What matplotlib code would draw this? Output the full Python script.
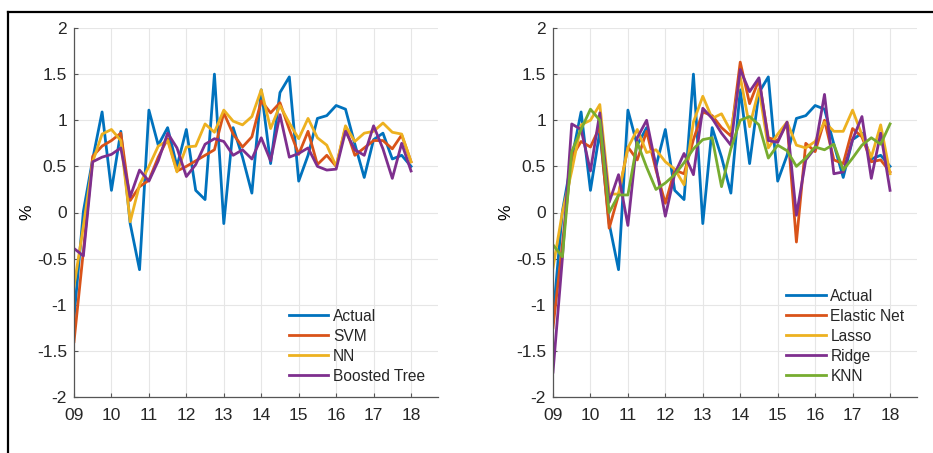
import numpy as np
import matplotlib.pyplot as plt
from matplotlib.lines import Line2D

# quarterly values, 2009Q1 .. 2018Q1
years = 2009 + np.arange(37) / 4
tick_years = np.arange(2009, 2019)
tick_labels = ['09', '10', '11', '12', '13', '14', '15', '16', '17', '18']

actual = [-1.15, 0.01, 0.58, 1.09, 0.24, 0.88, -0.12, -0.62, 1.11, 0.73,
          0.92, 0.5, 0.9, 0.24, 0.14, 1.5, -0.12, 0.92, 0.6, 0.21,
          1.33, 0.53, 1.3, 1.47, 0.34, 0.62, 1.02, 1.05, 1.16, 1.12,
          0.74, 0.38, 0.79, 0.86, 0.58, 0.62, 0.5]

svm = [-1.4, -0.42, 0.61, 0.72, 0.78, 0.86, 0.13, 0.28, 0.35, 0.6,
       0.8, 0.45, 0.5, 0.56, 0.62, 0.68, 1.08, 0.85, 0.71, 0.82,
       1.21, 1.08, 1.19, 0.9, 0.63, 0.88, 0.52, 0.62, 0.5, 0.92,
       0.62, 0.7, 0.78, 0.78, 0.69, 0.84, 0.55]

nn = [-0.8, -0.15, 0.55, 0.85, 0.9, 0.78, -0.1, 0.3, 0.5, 0.72,
      0.78, 0.44, 0.71, 0.72, 0.96, 0.87, 1.11, 0.99, 0.95, 1.04,
      1.33, 0.91, 1.16, 0.97, 0.8, 1.02, 0.81, 0.73, 0.5, 0.94,
      0.77, 0.86, 0.88, 0.97, 0.87, 0.85, 0.55]

boosted = [-0.39, -0.47, 0.55, 0.6, 0.63, 0.7, 0.17, 0.46, 0.34, 0.56,
           0.86, 0.7, 0.39, 0.52, 0.74, 0.8, 0.77, 0.62, 0.68, 0.58,
           0.81, 0.56, 1.06, 0.6, 0.64, 0.7, 0.5, 0.46, 0.47, 0.88,
           0.68, 0.62, 0.94, 0.69, 0.37, 0.75, 0.45]

elastic = [-1.25, -0.35, 0.6, 0.77, 0.71, 0.93, -0.17, 0.19, 0.71, 0.57,
           0.88, 0.46, 0.1, 0.46, 0.42, 0.79, 1.09, 1.05, 0.92, 0.83,
           1.63, 1.18, 1.44, 0.81, 0.78, 0.97, -0.32, 0.75, 0.66, 1.0,
           0.57, 0.53, 0.91, 0.82, 0.55, 0.57, 0.44]

lasso = [-0.6, 0.0, 0.45, 0.95, 1.0, 1.17, 0.2, 0.2, 0.7, 0.9,
         0.65, 0.68, 0.55, 0.47, 0.3, 0.98, 1.26, 1.02, 1.07, 0.88,
         1.47, 0.93, 1.34, 0.7, 0.85, 0.98, 0.73, 0.7, 0.77, 0.98,
         0.88, 0.88, 1.11, 0.84, 0.6, 0.95, 0.42]

ridge = [-1.73, -0.5, 0.96, 0.9, 0.45, 1.08, 0.11, 0.41, -0.14, 0.81,
         1.0, 0.5, -0.04, 0.42, 0.64, 0.41, 1.13, 1.02, 0.86, 0.73,
         1.55, 1.31, 1.46, 0.78, 0.76, 0.98, -0.03, 0.57, 0.7, 1.28,
         0.42, 0.44, 0.79, 1.04, 0.37, 0.86, 0.24]

knn = [-0.35, -0.48, 0.66, 0.9, 1.12, 1.0, 0.0, 0.19, 0.19, 0.76,
       0.49, 0.25, 0.32, 0.41, 0.54, 0.69, 0.79, 0.81, 0.28, 0.69,
       1.0, 1.04, 0.95, 0.59, 0.73, 0.67, 0.5, 0.59, 0.71, 0.68,
       0.74, 0.46, 0.59, 0.73, 0.81, 0.74, 0.96]

blue, red, yellow, purple, green = '#0072BD', '#D95319', '#EDB120', '#7E2F8E', '#77AC30'

plt.rcParams['font.family'] = ['Liberation Sans', 'DejaVu Sans']
plt.rcParams['text.color'] = '#262626'

fig = plt.figure(figsize=(9.33, 4.53), dpi=100)

# outer frame (only top and left edges fall inside the canvas)
fig.add_artist(Line2D([8 / 933, 8 / 933], [0, 1 - 12 / 453], transform=fig.transFigure,
                      color='black', lw=1.6))
fig.add_artist(Line2D([8 / 933, 1], [1 - 12 / 453, 1 - 12 / 453], transform=fig.transFigure,
                      color='black', lw=1.6))

FS = 12.5      # tick labels
LEG_FS = 11.2  # legend entries


def style_axes(ax):
    ax.set_xlim(2009, 2018.72)
    ax.set_ylim(-2, 2)
    ax.set_xticks(tick_years)
    ax.set_xticklabels(tick_labels)
    ax.set_yticks([-2, -1.5, -1, -0.5, 0, 0.5, 1, 1.5, 2])
    ax.set_yticklabels(['-2', '-1.5', '-1', '-0.5', '0', '0.5', '1', '1.5', '2'])
    ax.grid(True, color='#e6e6e6', lw=0.8)
    ax.set_axisbelow(True)
    for side in ['top', 'right']:
        ax.spines[side].set_visible(False)
    for side in ['left', 'bottom']:
        ax.spines[side].set_color('#555555')
        ax.spines[side].set_linewidth(0.9)
    ax.tick_params(direction='in', length=3, color='#555555', labelsize=FS,
                   labelcolor='#262626')
    ax.tick_params(axis='x', pad=8)
    ax.tick_params(axis='y', pad=5)
    ax.set_ylabel('%', fontsize=FS, labelpad=2)


lw = 2.0
leg_kw = dict(loc='lower left', frameon=False, fontsize=LEG_FS, handlelength=2.55,
              handletextpad=0.3, labelspacing=0.32, borderpad=0, borderaxespad=0)

ax1 = fig.add_axes([74 / 933, 1 - 397 / 453, 364 / 933, 369 / 453])
ax1.plot(years, actual, color=blue, lw=lw, label='Actual')
ax1.plot(years, svm, color=red, lw=lw, label='SVM')
ax1.plot(years, nn, color=yellow, lw=lw, label='NN')
ax1.plot(years, boosted, color=purple, lw=lw, label='Boosted Tree')
style_axes(ax1)
ax1.legend(bbox_to_anchor=(0.59, 0.036), **leg_kw)

ax2 = fig.add_axes([553 / 933, 1 - 397 / 453, 364 / 933, 369 / 453])
ax2.plot(years, actual, color=blue, lw=lw, label='Actual')
ax2.plot(years, elastic, color=red, lw=lw, label='Elastic Net')
ax2.plot(years, lasso, color=yellow, lw=lw, label='Lasso')
ax2.plot(years, ridge, color=purple, lw=lw, label='Ridge')
ax2.plot(years, knn, color=green, lw=lw, label='KNN')
style_axes(ax2)
ax2.legend(bbox_to_anchor=(0.64, 0.036), **leg_kw)

fig.savefig('out.png', dpi=100)
